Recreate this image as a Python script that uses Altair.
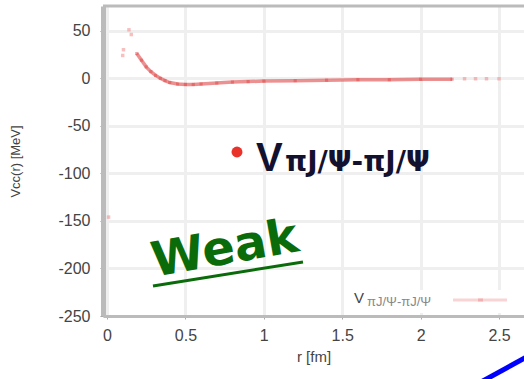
import altair as alt
import pandas as pd

# main potential curve
r_vals = [0.19, 0.22, 0.25, 0.28, 0.31, 0.34, 0.37, 0.40, 0.45, 0.50,
          0.55, 0.60, 0.70, 0.80, 0.90, 1.00, 1.20, 1.40, 1.60, 1.80, 2.00, 2.20]
v_vals = [26, 19, 12, 7, 3, 0, -2.5, -4.5, -6, -6.5,
          -6.5, -6, -5, -4, -3.5, -3, -2.5, -2, -1.5, -1.5, -1, -1]
# isolated / faint points
r_iso = [0.01, 0.10, 0.105, 0.14, 0.155, 2.28, 2.35, 2.42, 2.50]
v_iso = [-146, 24, 30, 51, 46, -0.5, -0.5, -0.5, -0.5]

x_ticks = [0, 0.5, 1, 1.5, 2, 2.5]
y_ticks = [-250, -200, -150, -100, -50, 0, 50]

curve = pd.DataFrame({"r": r_vals, "v": v_vals})
iso = pd.DataFrame({"r": r_iso, "v": v_iso})

W, H = 421, 310
xs = alt.Scale(domain=[-0.0255, 2.659], nice=False, zero=False)
ys = alt.Scale(domain=[-250, 76], nice=False, zero=False)

x_enc = alt.X("r:Q", scale=xs, title="r [fm]",
              axis=alt.Axis(values=x_ticks, labelExpr="'' + datum.value",
                            domainColor="#bbbbbb", domainWidth=3,
                            tickColor="#aaaaaa", tickSize=3,
                            gridColor="#efefef", gridWidth=3,
                            labelFontSize=16, labelColor="#444444", labelPadding=8,
                            titleFontSize=15, titleColor="#444444", titleFontWeight="normal",
                            titlePadding=6))
y_enc = alt.Y("v:Q", scale=ys, title="Vcc(r) [MeV]",
              axis=alt.Axis(values=y_ticks, labelExpr="'' + datum.value",
                            domainColor="#bbbbbb", domainWidth=5,
                            tickColor="#999999", tickSize=3,
                            gridColor="#efefef", gridWidth=3,
                            labelFontSize=16, labelColor="#444444", labelPadding=10,
                            titleFontSize=13, titleColor="#444444", titleFontWeight="normal",
                            titlePadding=35))

base_line = alt.Chart(curve).mark_line(color="#e04848", strokeWidth=3.5, opacity=0.6).encode(
    x=x_enc, y=y_enc)
base_pts = alt.Chart(curve).mark_square(color="#e04848", size=10, opacity=0.5).encode(
    x="r:Q", y="v:Q")
iso_pts = alt.Chart(iso).mark_square(color="#f08080", size=12, opacity=0.5).encode(
    x="r:Q", y="v:Q")

dummy = pd.DataFrame({"a": [0]})

top_border = alt.Chart(dummy).mark_rule(color="#bbbbbb", strokeWidth=3).encode(
    x=alt.value(0), x2=alt.value(W), y=alt.value(0))

legend_box = alt.Chart(dummy).mark_rect(color="white").encode(
    x=alt.value(242), x2=alt.value(412), y=alt.value(284), y2=alt.value(307))
legend_v = alt.Chart(dummy).mark_text(text="V", fontSize=15, color="#444444", align="left",
                                      baseline="alphabetic", font="Liberation Sans").encode(
    x=alt.value(251), y=alt.value(297))
legend_sub = alt.Chart(dummy).mark_text(text="πJ/Ψ-πJ/Ψ", fontSize=13, color="#888888", align="left",
                                        baseline="alphabetic", font="Liberation Sans").encode(
    x=alt.value(264), y=alt.value(300))
legend_line = alt.Chart(dummy).mark_rule(color="#f9d4d4", strokeWidth=3).encode(
    x=alt.value(350), x2=alt.value(404), y=alt.value(294))
legend_sq = alt.Chart(dummy).mark_rule(color="#f3b0b0", strokeWidth=3).encode(
    x=alt.value(375), x2=alt.value(380), y=alt.value(294))

ann_dot = alt.Chart(dummy).mark_circle(color="#e8322a", size=120, opacity=1).encode(
    x=alt.value(134), y=alt.value(146))
ann_v = alt.Chart(dummy).mark_text(text="V", fontSize=40, fontWeight="bold", color="#121230",
                                   align="left", baseline="alphabetic", font="Liberation Sans").encode(
    x=alt.value(153), y=alt.value(165))
ann_sub = alt.Chart(dummy).mark_text(text="πJ/Ψ-πJ/Ψ", fontSize=28, fontWeight="bold", color="#121230",
                                     align="left", baseline="alphabetic", font="DejaVu Sans").encode(
    x=alt.value(182), y=alt.value(165))

weak = alt.Chart(dummy).mark_text(text="Weak", fontSize=48, fontWeight="bold", color="#0a6b0a",
                                  angle=350, align="center", baseline="middle",
                                  font="DejaVu Sans").encode(
    x=alt.value(122), y=alt.value(244))
weak_ul = alt.Chart(dummy).mark_rule(color="#0a6b0a", strokeWidth=3).encode(
    x=alt.value(50), y=alt.value(280), x2=alt.value(200), y2=alt.value(256))

blue = alt.Chart(dummy).mark_rule(color="#0000ff", strokeWidth=5).encode(
    x=alt.value(378), y=alt.value(376), x2=alt.value(440), y2=alt.value(342))

chart = alt.layer(
    base_line, base_pts, iso_pts, top_border,
    legend_box, legend_v, legend_sub, legend_line, legend_sq,
    ann_dot, ann_v, ann_sub, weak, weak_ul, blue
).properties(
    width=W, height=H,
    autosize=alt.AutoSizeParams(type="none"),
    padding={"left": 103, "top": 6, "right": 0, "bottom": 63},
).configure_view(stroke=None).configure_axis(
    labelFont="Liberation Sans", titleFont="Liberation Sans"
)

chart.save("out.html", embed_options={"renderer": "svg", "actions": False})
